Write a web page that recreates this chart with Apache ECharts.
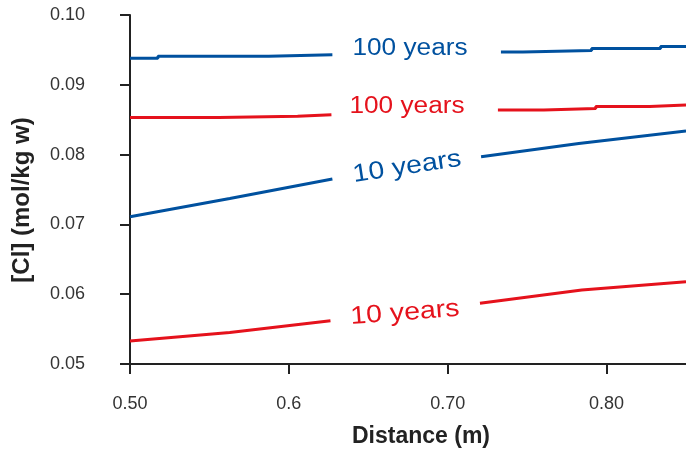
<!DOCTYPE html>
<html>
<head>
<meta charset="utf-8">
<script src="https://cdn.jsdelivr.net/npm/echarts@6/dist/echarts.min.js"></script>
<style>
  html, body { margin: 0; padding: 0; background: #fff; }
  #Chart { width: 686px; height: 452px; }
</style>
</head>
<body>
<div id="Chart"></div>
<script>
  // values, [distance m, Cl mol/kg w]
  var blue100Left = [[0.500, 0.0938], [0.5176, 0.0941], [0.5873, 0.0943], [0.6274, 0.0943]];
  var blue100Right = [[0.7335, 0.0947], [0.7473, 0.0949], [0.7906, 0.0952], [0.8340, 0.0955], [0.850, 0.0955]];
  var red100Left = [[0.500, 0.0853], [0.5559, 0.0855], [0.6055, 0.0857], [0.6268, 0.0857]];
  var red100Right = [[0.7316, 0.0864], [0.7605, 0.0866], [0.7932, 0.0869], [0.8271, 0.0871], [0.850, 0.0871]];
  var blue10Left = [[0.500, 0.0711], [0.5628, 0.0737], [0.6274, 0.0765]];
  var blue10Right = [[0.7210, 0.0797], [0.7825, 0.0816], [0.850, 0.0834]];
  var red10Left = [[0.500, 0.0533], [0.5628, 0.0545], [0.6262, 0.0562]];
  var red10Right = [[0.7203, 0.0587], [0.7844, 0.0606], [0.850, 0.0618]];

  var xTicks = [0.5, 0.6, 0.7, 0.8];
  var xTickLabels = ['0.50', '0.6', '0.70', '0.80'];
  var yTicks = [0.05, 0.06, 0.07, 0.08, 0.09, 0.10];
  var yTickLabels = ['0.05', '0.06', '0.07', '0.08', '0.09', '0.10'];

  var blue = '#00519f';
  var red = '#e5121c';
  var font = 'Liberation Sans, Arial, sans-serif';

  function line(data, color, step) {
    return {
      type: 'line',
      data: data,
      step: step ? 'end' : false,
      symbol: 'none',
      silent: true,
      lineStyle: { color: color, width: 3 }
    };
  }

  function tag(text, x, y, color, size, deg) {
    return {
      type: 'text',
      x: x, y: y,
      rotation: deg * Math.PI / 180,
      scaleX: 1.14,
      style: {
        text: text, fill: color, font: size + 'px ' + font,
        align: 'center', verticalAlign: 'middle'
      }
    };
  }

  var Chart = echarts.init(document.getElementById('Chart'));
  Chart.setOption({
    animation: false,
    grid: { left: 130, right: 0, top: 15, bottom: 88 },
    xAxis: {
      type: 'value', min: 0.5, max: 0.85, interval: 0.1,
      splitLine: { show: false },
      axisLine: { lineStyle: { color: '#222', width: 2 } },
      axisTick: { length: 10, customValues: xTicks, lineStyle: { color: '#222', width: 2 } },
      axisLabel: {
        customValues: xTicks, margin: 31, fontSize: 18, color: '#333', fontFamily: font,
        formatter: function (v) { return xTickLabels[xTicks.indexOf(Math.round(v * 100) / 100)]; }
      }
    },
    yAxis: {
      type: 'value', min: 0.05, max: 0.10, interval: 0.01,
      splitLine: { show: false },
      axisLine: { show: true, lineStyle: { color: '#222', width: 2 } },
      axisTick: { show: true, length: 10, customValues: yTicks, lineStyle: { color: '#222', width: 2 } },
      axisLabel: {
        customValues: yTicks, margin: 45, fontSize: 18, color: '#333', fontFamily: font,
        formatter: function (v) { return yTickLabels[yTicks.indexOf(Math.round(v * 100) / 100)]; }
      }
    },
    series: [
      line(blue100Left, blue, true), line(blue100Right, blue, true),
      line(red100Left, red, true), line(red100Right, red, true),
      line(blue10Left, blue), line(blue10Right, blue),
      line(red10Left, red), line(red10Right, red)
    ],
    graphic: [
      tag('100 years', 410, 49, blue, 23, 0),
      tag('100 years', 407, 107, red, 23, 0),
      tag('10 years', 407, 167, blue, 25, 8.7),
      tag('10 years', 405, 313, red, 25, 4.4),
      {
        type: 'text', x: 421, y: 437,
        style: { text: 'Distance (m)', fill: '#222', font: 'bold 23px ' + font, align: 'center', verticalAlign: 'middle' }
      },
      {
        type: 'text', x: 22, y: 200, rotation: Math.PI / 2,
        style: { text: '[Cl] (mol/kg w)', fill: '#222', font: 'bold 24px ' + font, align: 'center', verticalAlign: 'middle' }
      }
    ]
  });
</script>
</body>
</html>
